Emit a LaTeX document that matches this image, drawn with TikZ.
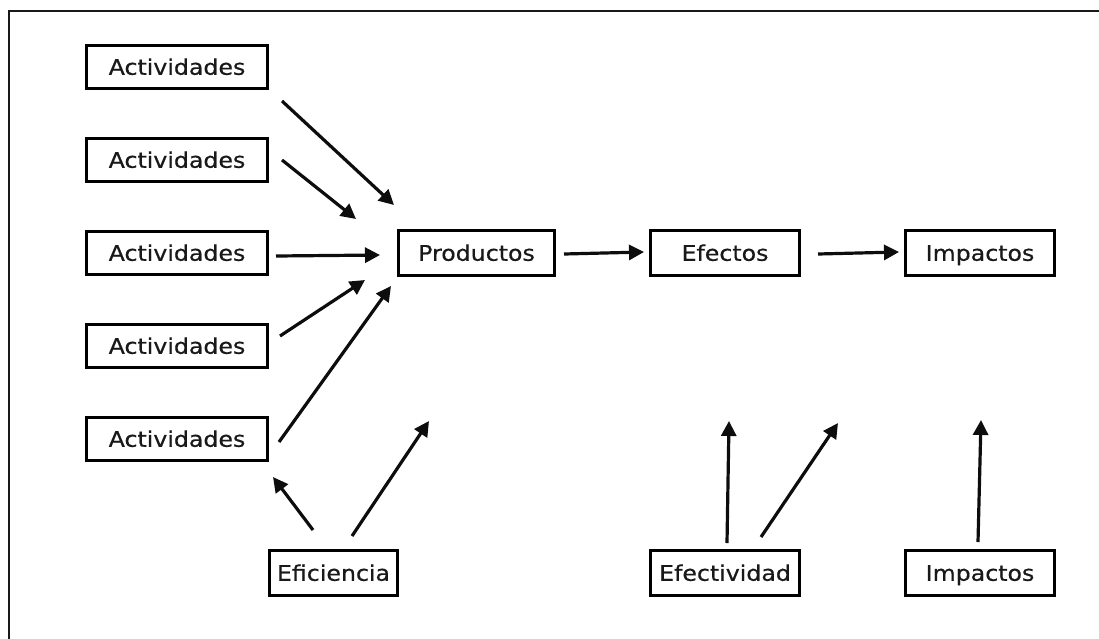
\documentclass[tikz,border=0pt]{standalone}
\usepackage{fontspec}
\setmainfont{DejaVu Sans}[FakeStretch=1.1, FakeBold=0.6]
\usetikzlibrary{arrows.meta}
\tikzset{
  box/.style={draw=black, line width=3pt, inner sep=0pt, minimum height=44pt,
    text height=15.5pt, text depth=0pt, align=center,
    font=\fontsize{21.5}{24}\selectfont, text=black!90},
  actbox/.style={box, minimum width=181pt, minimum height=43pt},
  arr/.style={line width=3.2pt, -{Triangle[length=15pt,width=15pt]}, black!95},
  frame/.style={line width=2pt, black!90}
}
\begin{document}
\begin{tikzpicture}[x=1pt,y=-1pt]
\useasboundingbox (0,0) rectangle (1099,638);
\coordinate (fbl) at (9,640);
\coordinate (ftl) at (9,11);
\coordinate (ftr) at (1100,11);
\draw[frame] (fbl) -- (ftl) -- (ftr);

\node[actbox] (act1) at (177,67) {Actividades};
\node[actbox] (act2) at (177,160) {Actividades};
\node[actbox] (act3) at (177,253) {Actividades};
\node[actbox] (act4) at (177,346) {Actividades};
\node[actbox] (act5) at (177,439) {Actividades};

\node[box, minimum width=156pt, minimum height=45pt] (prod) at (476.5,253) {Productos};
\node[box, minimum width=149pt, minimum height=45pt] (efe) at (725,253) {Efectos};
\node[box, minimum width=149pt, minimum height=45pt] (imp) at (980,253) {Impactos};

\node[box, minimum width=128pt, minimum height=45pt] (efic) at (333.5,573) {Eficiencia};
\node[box, minimum width=149pt, minimum height=45pt] (efec) at (725,573) {Efectividad};
\node[box, minimum width=149pt, minimum height=45pt] (imp2) at (980,573) {Impactos};

% arrow end points
\coordinate (a1s) at (282,101);  \coordinate (a1e) at (394,205);
\coordinate (a2s) at (282,160);  \coordinate (a2e) at (356,219);
\coordinate (a3s) at (276,256);  \coordinate (a3e) at (380,255);
\coordinate (a4s) at (280,336);  \coordinate (a4e) at (365,280);
\coordinate (a5s) at (279,442);  \coordinate (a5e) at (391,286);
\coordinate (e1s) at (313,530);  \coordinate (e1e) at (273,477);
\coordinate (e2s) at (352,536);  \coordinate (e2e) at (429,421);
\coordinate (p1s) at (564,254);  \coordinate (p1e) at (644,252);
\coordinate (p2s) at (818,254);  \coordinate (p2e) at (899,252);
\coordinate (f1s) at (727,543);  \coordinate (f1e) at (729,421);
\coordinate (f2s) at (761,537);  \coordinate (f2e) at (838,423);
\coordinate (i1s) at (978,542);  \coordinate (i1e) at (981,420);

\draw[arr] (a1s) -- (a1e);
\draw[arr] (a2s) -- (a2e);
\draw[arr] (a3s) -- (a3e);
\draw[arr] (a4s) -- (a4e);
\draw[arr] (a5s) -- (a5e);
\draw[arr] (e1s) -- (e1e);
\draw[arr] (e2s) -- (e2e);
\draw[arr] (p1s) -- (p1e);
\draw[arr] (p2s) -- (p2e);
\draw[arr] (f1s) -- (f1e);
\draw[arr] (f2s) -- (f2e);
\draw[arr] (i1s) -- (i1e);
\end{tikzpicture}
\end{document}
